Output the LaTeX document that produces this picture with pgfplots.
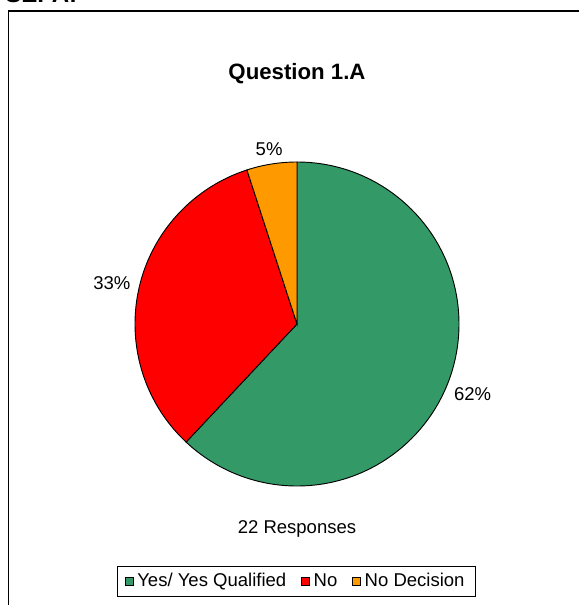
\documentclass[border=0pt]{standalone}
\usepackage{pgfplots}
\pgfplotsset{compat=1.18}
\usepackage{pgfplotstable}
\usepackage{fontspec}
\setmainfont{Liberation Sans}

\definecolor{pieGreen}{HTML}{339966}
\definecolor{pieRed}{HTML}{FF0000}
\definecolor{pieOrange}{HTML}{FF9900}

% share of responses, clockwise from the top
\pgfplotstableread{
value
62
33
5
}\piedata

\begin{document}
\begin{tikzpicture}
\pgfplotstablegetelem{0}{value}\of\piedata \let\vA\pgfplotsretval
\pgfplotstablegetelem{1}{value}\of\piedata \let\vB\pgfplotsretval
\pgfplotstablegetelem{2}{value}\of\piedata \let\vC\pgfplotsretval
\pgfmathsetmacro\total{\vA+\vB+\vC}
\pgfmathsetmacro\aA{90}
\pgfmathsetmacro\aB{\aA-360*(\vA/\total)}
\pgfmathsetmacro\aC{\aB-360*(\vB/\total)}
\pgfmathsetmacro\aD{\aC-360*(\vC/\total)}
\pgfmathsetmacro\mA{(\aA+\aB)/2}
\pgfmathsetmacro\mB{(\aB+\aC)/2}
\pgfmathsetmacro\mC{(\aC+\aD)/2}
\pgfmathsetmacro\nA{\mA+180}
\pgfmathsetmacro\nB{\mB+180}
\pgfmathsetmacro\nC{\mC+180}
\pgfmathtruncatemacro\pA{round(100*(\vA/\total))}
\pgfmathtruncatemacro\pB{round(100*(\vB/\total))}
\pgfmathtruncatemacro\pC{round(100*(\vC/\total))}
\def\R{87.48pt}   % pie radius
\def\Rl{92pt}     % label distance
\begin{axis}[
  x=0.54pt, y=0.54pt,
  xmin=0, xmax=579, ymin=0, ymax=605,
  hide axis, clip=false,
  at={(0,0)}, anchor=south west,
  legend columns=-1,
  legend image code/.code={\draw[#1, line width=0.4pt] (0pt,-2.2pt) rectangle (4.4pt,2.2pt);},
  legend style={at={(0.5121,0.0388)}, anchor=center, draw=black, line width=0.6pt,
    font=\fontsize{10}{12}\selectfont, inner xsep=4pt, inner ysep=1.5pt,
    /tikz/every even column/.append style={column sep=6pt}},
]
\addlegendimage{fill=pieGreen, draw=black}
\addlegendentry{Yes/ Yes Qualified}
\addlegendimage{fill=pieRed, draw=black}
\addlegendentry{No}
\addlegendimage{fill=pieOrange, draw=black}
\addlegendentry{No Decision}

\coordinate (ll) at (axis cs:0,0);
\coordinate (ur) at (axis cs:579,605);

\filldraw[fill=pieGreen, draw=black, line width=0.5pt] (axis cs:297,281) -- ++(\aA:\R) arc[start angle=\aA, end angle=\aB, radius=\R] -- cycle;
\filldraw[fill=pieRed, draw=black, line width=0.5pt] (axis cs:297,281) -- ++(\aB:\R) arc[start angle=\aB, end angle=\aC, radius=\R] -- cycle;
\filldraw[fill=pieOrange, draw=black, line width=0.5pt] (axis cs:297,281) -- ++(\aC:\R) arc[start angle=\aC, end angle=\aD, radius=\R] -- cycle;

\path (axis cs:297,281) ++(\mA:\Rl) node[anchor=\nA, inner sep=0pt, font=\fontsize{10}{12}\selectfont] {\pA\%};
\path (axis cs:297,281) ++(\mB:\Rl) node[anchor=\nB, inner sep=0pt, font=\fontsize{10}{12}\selectfont] {\pB\%};
\path (axis cs:297,281) ++(\mC:\Rl) node[anchor=\nC, inner sep=0pt, font=\fontsize{10}{12}\selectfont] {\pC\%};

\node[font=\bfseries\fontsize{12}{14}\selectfont] at (axis cs:297,531) {Question 1.A};
\node[font=\fontsize{10}{12}\selectfont] at (axis cs:297,76) {22 Responses};
\node[anchor=base west, inner sep=0pt, font=\bfseries\fontsize{13}{15}\selectfont] at (axis cs:5,603) {SEPA:};

\draw[line width=0.7pt] (axis cs:8.5,-20) -- (axis cs:8.5,594) -- (axis cs:620,594);
\end{axis}
\pgfresetboundingbox
\path[use as bounding box] (ll) rectangle (ur);
\end{tikzpicture}
\end{document}
